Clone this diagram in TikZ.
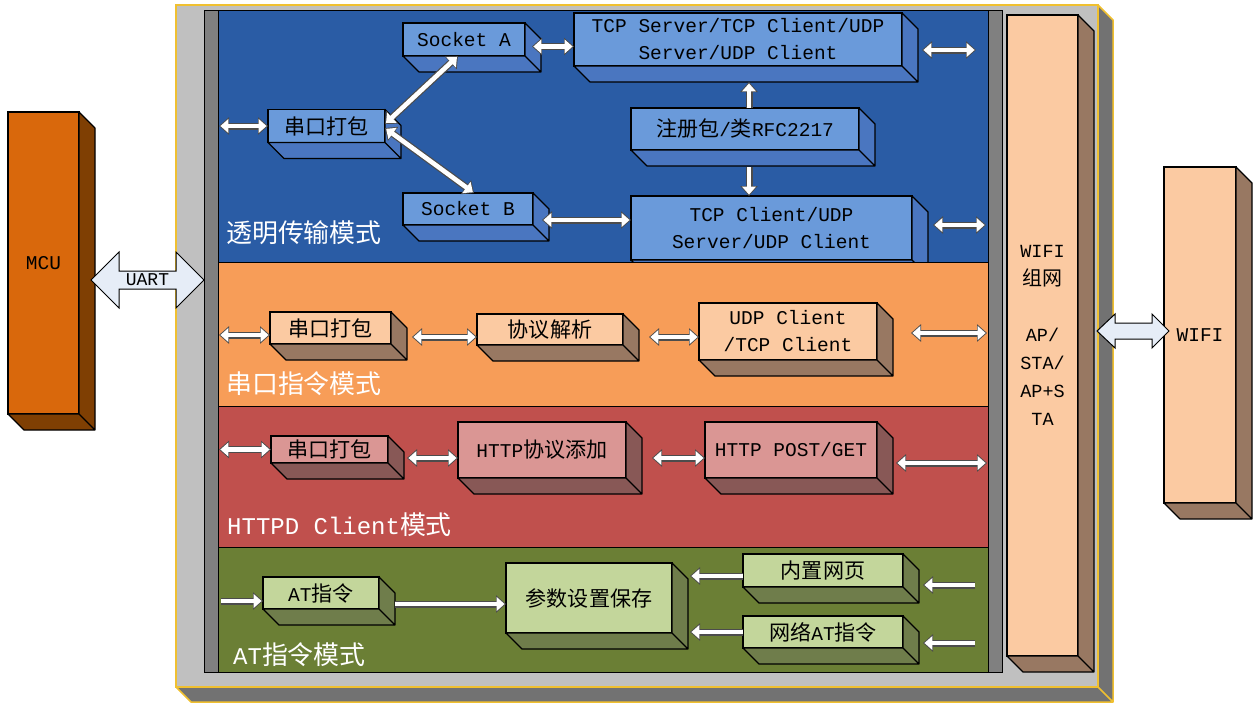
\documentclass[tikz,border=0pt]{standalone}
\usepackage{fontspec}
\setmainfont{Liberation Mono}
\newfontfamily\cjk{Noto Sans CJK SC}[Scale=1.08]
\usepackage{tikz}
\usetikzlibrary{calc,arrows.meta}

\definecolor{framefront}{HTML}{C0C0C0}
\definecolor{frameside}{HTML}{727272}
\definecolor{gold}{HTML}{F0C030}
\definecolor{barcol}{HTML}{808080}
\definecolor{bluepanel}{HTML}{2A5CA5}
\definecolor{bluefront}{HTML}{6A9ADA}
\definecolor{blueside}{HTML}{4A76C0}
\definecolor{orangepanel}{HTML}{F79D58}
\definecolor{peach}{HTML}{FBCAA2}
\definecolor{brownside}{HTML}{987862}
\definecolor{redpanel}{HTML}{C0504D}
\definecolor{pinkfront}{HTML}{DA9694}
\definecolor{redside}{HTML}{885856}
\definecolor{greenpanel}{HTML}{6B7F35}
\definecolor{greenfront}{HTML}{C3D69B}
\definecolor{greenside}{HTML}{6F7D4B}
\definecolor{mcufront}{HTML}{D9680C}
\definecolor{mcuside}{HTML}{7F3F03}
\definecolor{arrowfill}{HTML}{E6EDF7}

\newcommand\zh[1]{{\cjk #1}}
\newcommand\extrude[3][16]{%
  \filldraw[fill=#3, draw=black, line width=1.2pt, line join=round]
    (#2.north east) -- ++(#1,#1) -- ($(#2.south east)+(#1,#1)$) -- ($(#2.south west)+(#1,#1)$)
    -- (#2.south west) -- (#2.south east) -- cycle
    (#2.south east) -- ++(#1,#1);
}

\tikzset{
  outtip/.tip={Triangle[length=10pt,width=17pt]},
  intip/.tip={Triangle[length=8pt,width=13.6pt]},
  dlink/.style={preaction={draw=black!70, line width=7pt, shorten <=0pt, shorten >=0pt, outtip-outtip},
    draw=white, line width=4.6pt, shorten <=1.4pt, shorten >=1.4pt, intip-intip},
  slink/.style={preaction={draw=black!70, line width=7pt, shorten <=0pt, shorten >=0pt, -outtip},
    draw=white, line width=4.6pt, shorten <=0pt, shorten >=1.4pt, -intip},
  cube/.style={draw=black, line width=1.2pt, inner sep=1pt, outer sep=0pt, align=center,
    font=\fontsize{19.5}{27}\selectfont},
  panel/.style={draw=black, line width=1pt},
  modelabel/.style={anchor=west, inner sep=0pt, text=white, font=\fontsize{24}{28}\selectfont},
  fatarrow/.style={fill=arrowfill, draw=black, line width=1pt, line join=miter},
}

\begin{document}
\begin{tikzpicture}[x=1pt,y=-1pt]
\useasboundingbox (0,0) rectangle (1253,702);

% module frame
\filldraw[fill=frameside, draw=gold, line width=1.5pt, line join=round]
  (1098,5) -- (1113,20) -- (1113,702) -- (191,702) -- (176,687) -- (1098,687) -- cycle
  (1098,687) -- (1113,702);
\filldraw[fill=framefront, draw=gold, line width=1.5pt] (176,5) rectangle (1098,687);
\filldraw[fill=barcol, draw=black, line width=1pt] (204,10) rectangle (218,672) (988,10) rectangle (1002,672);

% transparent mode
\filldraw[panel, fill=bluepanel] (218,10) rectangle (988,262);
\node[cube, fill=bluefront, minimum width=122pt, minimum height=33pt] (sockA) at (464,39.5) {Socket A};
\node[cube, fill=bluefront, minimum width=117pt, minimum height=33pt] (bpack) at (326.5,126) {\zh{串口打包}};
\node[cube, fill=bluefront, minimum width=130pt, minimum height=32pt] (sockB) at (468,209) {Socket B};
\node[cube, fill=bluefront, minimum width=328pt, minimum height=53pt] (tcpsrv) at (738,39.5) {TCP Server/TCP Client/UDP\\Server/UDP Client};
\node[cube, fill=bluefront, minimum width=228pt, minimum height=42pt] (reg) at (745,129) {\zh{注册包}/\zh{类}RFC2217};
\node[cube, fill=bluefront, minimum width=281pt, minimum height=64pt] (tcpcli) at (771.5,228) {TCP Client/UDP\\Server/UDP Client};
\extrude{sockA}{blueside}
\extrude{bpack}{blueside}
\extrude{sockB}{blueside}
\extrude{tcpsrv}{blueside}
\extrude{reg}{blueside}
\extrude{tcpcli}{blueside}
\node[modelabel] (lblue) at (226,233) {\zh{透明传输模式}};

\coordinate (b1) at (219,126);
\coordinate (b5) at (976,50);
\coordinate (b9) at (986,225);
\coordinate (rx) at ([xshift=4pt]reg.north);
\draw[dlink] (b1) -- (bpack.west);
\draw[dlink] ([yshift=2pt]bpack.east) -- ([xshift=-6pt]sockA.south);
\draw[dlink] ([yshift=-2pt]bpack.east) -- ([xshift=6pt]sockB.north);
\draw[dlink] ([xshift=7pt,yshift=-7pt]sockA.east) -- ([yshift=-7pt]tcpsrv.west);
\draw[dlink] ([xshift=20pt,yshift=-10.5pt]tcpsrv.east) -- (b5);
\draw[slink] (rx) -- ($(rx |- tcpsrv.south)+(0,16)$);
\draw[slink] ($(rx |- reg.south)+(0,17)$) -- (rx |- tcpcli.north);
\draw[dlink] ([xshift=9pt,yshift=-11pt]sockB.east) -- ([yshift=8pt]tcpcli.west);
\draw[dlink] ([xshift=21pt,yshift=3pt]tcpcli.east) -- (b9);

% serial command mode
\filldraw[panel, fill=orangepanel] (218,262) rectangle (988,406);
\node[cube, fill=peach, minimum width=121pt, minimum height=32pt] (opack) at (330.5,328) {\zh{串口打包}};
\node[cube, fill=peach, minimum width=146pt, minimum height=31pt] (parse) at (550,329.5) {\zh{协议解析}};
\node[cube, fill=peach, minimum width=178pt, minimum height=57pt] (udp) at (788,331.5) {UDP Client\\/TCP Client};
\extrude{opack}{brownside}
\extrude{parse}{brownside}
\extrude{udp}{brownside}
\node[modelabel] (lorange) at (226,384) {\zh{串口指令模式}};

\coordinate (o1) at (219,335);
\coordinate (o13) at (987,333);
\draw[dlink] (o1) -- ([yshift=-7pt]opack.west);
\draw[dlink] ([xshift=21pt,yshift=-9pt]opack.east) -- ([yshift=-7.5pt]parse.west);
\draw[dlink] ([xshift=26pt,yshift=-7.5pt]parse.east) -- ([yshift=-5.5pt]udp.west);
\draw[dlink] ([xshift=34pt,yshift=-1.5pt]udp.east) -- (o13);

% HTTPD client mode
\filldraw[panel, fill=redpanel] (218,406) rectangle (988,547);
\node[cube, fill=pinkfront, minimum width=117pt, minimum height=27pt] (rpack) at (329.5,449.5) {\zh{串口打包}};
\node[cube, fill=pinkfront, minimum width=168pt, minimum height=56pt] (httpadd) at (542,450) {HTTP\zh{协议添加}};
\node[cube, fill=pinkfront, minimum width=172pt, minimum height=56pt] (post) at (791,450) {HTTP POST/GET};
\extrude{rpack}{redside}
\extrude{httpadd}{redside}
\extrude{post}{redside}
\node[modelabel] (lred) at (227,525) {HTTPD Client\zh{模式}};

\coordinate (r1) at (219,449.5);
\coordinate (r17) at (987,463);
\draw[dlink] (r1) -- (rpack.west);
\draw[dlink] ([xshift=19pt,yshift=-8.5pt]rpack.east) -- ([yshift=-8pt]httpadd.west);
\draw[dlink] ([xshift=26pt,yshift=-8pt]httpadd.east) -- ([yshift=-8pt]post.west);
\draw[dlink] ([xshift=19pt,yshift=-13pt]post.east) -- (r17);

% AT command mode
\filldraw[panel, fill=greenpanel] (218,547) rectangle (988,672);
\node[cube, fill=greenfront, minimum width=116pt, minimum height=32pt] (atcmd) at (321,593) {AT\zh{指令}};
\node[cube, fill=greenfront, minimum width=166pt, minimum height=70pt] (save) at (589,598) {\zh{参数设置保存}};
\node[cube, fill=greenfront, minimum width=160pt, minimum height=33pt] (web) at (823,570.5) {\zh{内置网页}};
\node[cube, fill=greenfront, minimum width=160pt, minimum height=32pt] (netat) at (823,632) {\zh{网络}AT\zh{指令}};
\extrude{atcmd}{greenside}
\extrude{save}{greenside}
\extrude{web}{greenside}
\extrude{netat}{greenside}
\node[modelabel] (lgreen) at (233,655) {AT\zh{指令模式}};

\coordinate (g1) at (221,601);
\coordinate (g21) at (975,585);
\coordinate (g23) at (975,643);
\draw[slink] (g1) -- ([yshift=-8pt]atcmd.west);
\draw[slink] ([xshift=16pt,yshift=-11pt]atcmd.east) -- ([yshift=-6pt]save.west);
\draw[slink] ([yshift=-5.5pt]web.west) -- ([xshift=18pt,yshift=22pt]save.east);
\draw[slink] (netat.west) -- ([xshift=18pt,yshift=-34pt]save.east);
\draw[slink] (g21) -- ([xshift=20pt,yshift=-14.5pt]web.east);
\draw[slink] (g23) -- ([xshift=20pt,yshift=-11pt]netat.east);

% wifi side
\node[cube, fill=peach, minimum width=71pt, minimum height=641pt, font=\fontsize{18.5}{28}\selectfont] (wifinet) at (1042.5,335.5)
  {WIFI\\\zh{组网}\\[28pt]AP/\\STA/\\AP+S\\TA};
\extrude{wifinet}{brownside}

\node[cube, fill=mcufront, minimum width=71pt, minimum height=302pt] (mcu) at (43.5,263) {MCU};
\extrude{mcu}{mcuside}
\node[cube, fill=peach, minimum width=72pt, minimum height=336pt] (wifi) at (1200,335) {WIFI};
\extrude{wifi}{brownside}

\coordinate (ua) at ([xshift=12pt,yshift=-17pt]mcu.east);
\coordinate (ub) at (204,280);
\filldraw[fatarrow] (ua) -- ++(28,-28) -- ++(0,19) -- ++(57,0) -- ++(0,-19) -- (ub)
  -- ++(-28,28) -- ++(0,-19) -- ++(-57,0) -- ++(0,19) -- cycle;
\node[inner sep=0pt, font=\fontsize{18}{20}\selectfont] (uart) at ($(ua)!0.5!(ub)$) {UART};

\coordinate (wa) at ([xshift=19pt,yshift=4.5pt]wifinet.east);
\coordinate (wb) at ([xshift=5pt,yshift=4pt]wifi.west);
\filldraw[fatarrow] (wa) -- ++(18,-17) -- ++(0,9) -- ++(37,0) -- ++(0,-9) -- (wb)
  -- ++(-17,17) -- ++(0,-9) -- ++(-37,0) -- ++(0,9) -- cycle;
\end{tikzpicture}
\end{document}
